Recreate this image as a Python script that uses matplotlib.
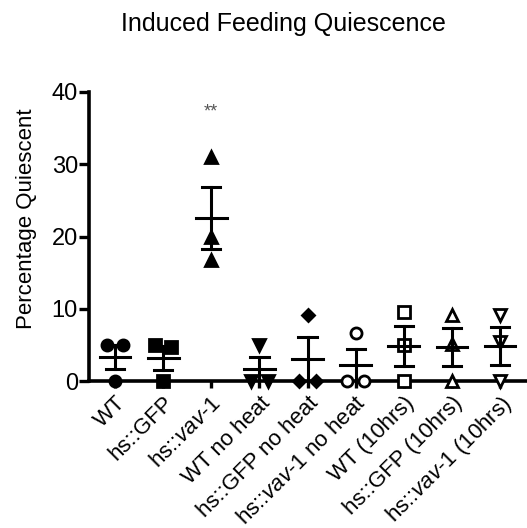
import matplotlib
matplotlib.use("Agg")
import matplotlib.pyplot as plt
import numpy as np

plt.rcParams['font.family'] = ['Liberation Sans', 'DejaVu Sans']
plt.rcParams['mathtext.fontset'] = 'custom'
plt.rcParams['mathtext.rm'] = 'Liberation Sans'
plt.rcParams['mathtext.it'] = 'Liberation Sans:italic'

categories = ["WT", "hs::GFP", r"hs::$\mathit{vav}$-$\mathit{1}$", "WT no heat", "hs::GFP no heat",
              r"hs::$\mathit{vav}$-$\mathit{1}$ no heat", "WT (10hrs)", "hs::GFP (10hrs)",
              r"hs::$\mathit{vav}$-$\mathit{1}$ (10hrs)"]
values = [
    [5.0, 5.0, 0.0],
    [5.0, 4.7, 0.0],
    [31.0, 20.0, 16.7],
    [5.0, 0.0, 0.0],
    [9.2, 0.0, 0.0],
    [6.7, 0.0, 0.0],
    [9.6, 5.0, 0.0],
    [9.1, 5.1, 0.0],
    [9.1, 5.4, 0.0],
]
markers = ['o', 's', '^', 'v', 'D', 'o', 's', '^', 'v']
filled = [True, True, True, True, True, False, False, False, False]
yticks = [0, 10, 20, 30, 40]

fig = plt.figure(figsize=(5.27, 5.28), dpi=100)
ax = fig.add_axes([0.169, 0.278, 0.831, 0.548])

for i, vals in enumerate(values):
    v = np.array(vals)
    # spread tied values horizontally
    xs = np.full(len(v), float(i))
    for val in np.unique(v):
        idx = np.where(np.isclose(v, val, atol=0.4))[0]
        if len(idx) > 1:
            offs = np.linspace(-0.17, 0.17, len(idx))
            xs[idx] = i + offs
    ms = 8 if markers[i] != 'D' else 6.5
    ax.plot(xs, v, linestyle='none', marker=markers[i], markersize=ms,
            markerfacecolor='black' if filled[i] else 'white',
            markeredgecolor='black', markeredgewidth=2, clip_on=False, zorder=3)
    m = v.mean()
    sem = v.std(ddof=1) / np.sqrt(len(v))
    ax.plot([i - 0.32, i + 0.32], [m, m], color='black', lw=2.2, zorder=4, clip_on=False)
    ax.plot([i, i], [max(m - sem, 0), m + sem], color='black', lw=2.2, zorder=4, clip_on=False)
    for y in (m - sem, m + sem):
        if y > 0.05:
            ax.plot([i - 0.19, i + 0.19], [y, y], color='black', lw=2.2, zorder=4)

ax.text(2, 37.2, "**", ha='center', va='center', fontsize=13, color='#555555')

ax.set_xlim(-0.54, 8.56)
ax.set_ylim(0, 40)
ax.set_yticks(yticks)
ax.set_yticklabels([str(t) for t in yticks], fontsize=17)
ax.set_xticks(range(len(categories)))
ax.set_xticklabels(categories, rotation=45, ha='right', va='top',
                   rotation_mode='anchor', fontsize=16)
ax.tick_params(axis='y', length=7, width=2.4, pad=1)
ax.tick_params(axis='x', length=5, width=2.4, pad=3)
for s in ['top', 'right']:
    ax.spines[s].set_visible(False)
for s in ['left', 'bottom']:
    ax.spines[s].set_linewidth(2.6)
ax.set_ylabel("Percentage Quiescent", fontsize=16)
ax.yaxis.set_label_coords(-0.118, 0.56)
fig.text(0.537, 0.955, "Induced Feeding Quiescence", ha='center', va='center', fontsize=18)

fig.savefig("out.png", dpi=100)
